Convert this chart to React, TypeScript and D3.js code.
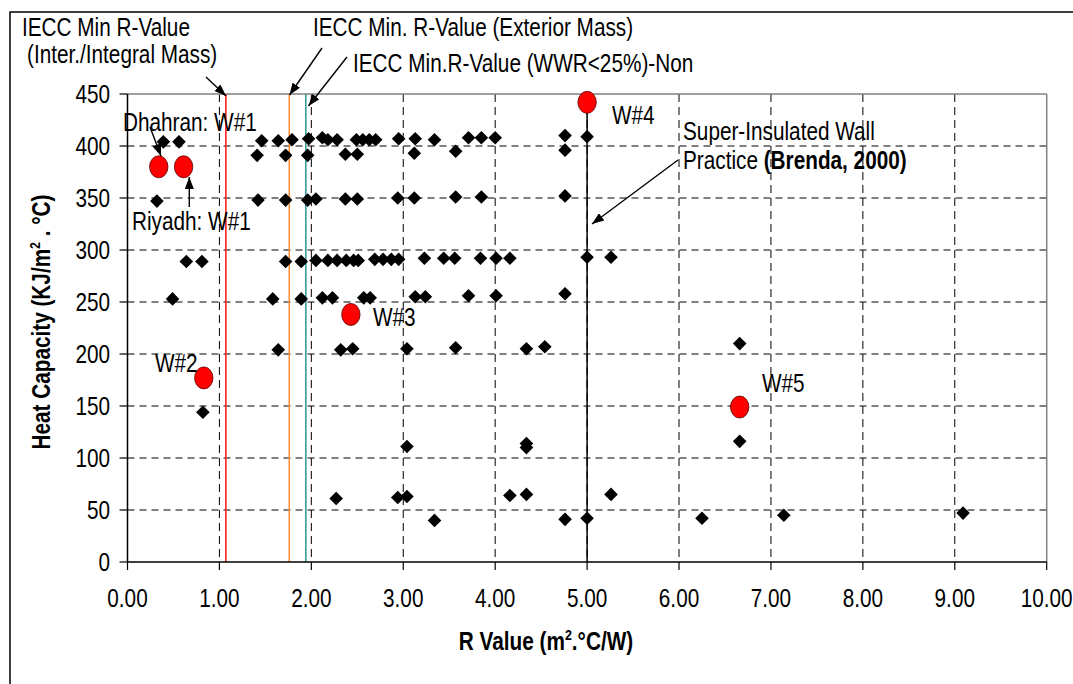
import React from 'react';
import * as d3 from 'd3';

const W = 1073;
const H = 684;

// Axis ticks
const xTicks = [0, 1, 2, 3, 4, 5, 6, 7, 8, 9, 10];
const yTicks = [0, 50, 100, 150, 200, 250, 300, 350, 400, 450];

// Wall cases (black diamonds): R value and heat capacity
const rValues = [
  0.39, 0.56, 1.46, 1.64, 1.79, 1.97, 2.12, 2.18, 2.28, 2.49, 2.56, 2.63, 2.70, 2.95, 3.13, 3.34, 3.71, 3.85, 4.00, 4.76, 5.00,
  1.41, 1.72, 1.96, 2.37, 2.50, 3.12, 3.57, 4.76,
  0.32, 1.42, 1.72, 1.96, 2.05, 2.37, 2.50, 2.94, 3.12, 3.57, 3.85, 4.76,
  0.64, 0.81, 1.72, 1.89, 2.05, 2.18, 2.28, 2.38, 2.46, 2.51, 2.69, 2.78, 2.87, 2.95, 3.23, 3.44, 3.56, 3.84, 4.01, 4.16, 5.00, 5.26,
  0.49, 1.58, 1.89, 2.12, 2.23, 2.57, 2.64, 3.13, 3.24, 3.71, 4.01, 4.76,
  1.64, 2.32, 2.45, 3.04, 3.57, 4.34, 4.54, 6.66,
  0.82, 3.04, 4.34, 4.34, 6.66,
  2.27, 2.94, 3.04, 4.16, 4.34, 5.26,
  3.34, 4.76, 5.00, 6.25, 7.14, 9.09,
];
const heatCap = [
  404, 404, 405, 405, 406, 407, 408, 406, 406, 406, 406, 406, 406, 407, 407, 406, 408, 408, 408, 410, 409,
  391, 391, 391, 392, 392, 393, 395, 396,
  347, 348, 348, 348, 349, 349, 349, 350, 350, 351, 351, 352,
  289, 289, 289, 289, 290, 290, 290, 290, 290, 290, 291, 291, 291, 291, 292, 292, 292, 292, 292, 292, 293, 293,
  253, 253, 253, 254, 254, 254, 254, 255, 255, 256, 256, 258,
  204, 204, 205, 205, 206, 205, 207, 210,
  144, 111, 110, 114, 116,
  61, 62, 63, 64, 65, 65,
  40, 41, 42, 42, 45, 47,
];

// Highlighted walls (red circles)
const wallNames = ['Dhahran: W#1', 'Riyadh: W#1', 'W#2', 'W#3', 'W#4', 'W#5'];
const wallR = [0.34, 0.61, 0.83, 2.43, 5.0, 6.66];
const wallHC = [380, 380, 177, 238, 442, 149];

// IECC minimum R-value lines
const ieccR = [1.07, 1.76, 1.94];
const ieccColors = ['#ff2020', '#f7903a', '#3a9c9c'];

// Super-insulated practice line
const superR = 5.0;
const superHC = [0, 442];

const FONT = "'Liberation Sans', Arial, Helvetica, sans-serif";
const SX = 0.83;
const FS = 25;

function T(props: any) {
  const { x, y, anchor = 'start', size = FS, weight = 'normal', rotate = 0, children } = props;
  return (
    <text
      transform={`translate(${x},${y}) rotate(${rotate}) scale(${SX},1)`}
      textAnchor={anchor}
      fontSize={size}
      fontWeight={weight}
      fontFamily={FONT}
      fill="#000"
    >
      {children}
    </text>
  );
}

export default function App() {
  const x = d3.scaleLinear().domain([0, 10]).range([127.5, 1046.7]);
  const y = d3.scaleLinear().domain([0, 450]).range([562, 94]);
  const [x0, x1] = x.range();
  const [y0, y1] = y.range();
  const diamond = 'M0,-6.8L6.8,0L0,6.8L-6.8,0Z';

  const arrow = (ax: number, ay: number, bx: number, by: number, k: number) => (
    <line key={k} x1={ax} y1={ay} x2={bx} y2={by} stroke="#000" strokeWidth={1.4} markerEnd="url(#ah)" />
  );

  return (
    <svg width={W} height={H} style={{ position: 'absolute', left: 0, top: 0, background: '#fff' }}>
      <defs>
        <marker id="ah" viewBox="0 0 12 9" refX="12" refY="4.5" markerWidth="12" markerHeight="9" markerUnits="userSpaceOnUse" orient="auto">
          <path d="M0,0L12,4.5L0,9Z" fill="#000" />
        </marker>
      </defs>
      <rect x={0} y={0} width={W} height={H} fill="#fff" />
      {/* outer frame */}
      <rect x={10} y={12} width={W + 20} height={H + 20} fill="none" stroke="#000" strokeWidth={1.5} />

      {/* grid */}
      {yTicks.filter(v => v > 0 && v < 450).map(v => (
        <line key={'gy' + v} x1={x0} x2={x1} y1={y(v)} y2={y(v)} stroke="#000" strokeWidth={1} strokeDasharray="7,5" />
      ))}
      {xTicks.filter(v => v > 0 && v < 10).map(v => (
        <line key={'gx' + v} x1={x(v)} x2={x(v)} y1={y1} y2={y0} stroke="#000" strokeWidth={1} strokeDasharray="8,5" />
      ))}
      {/* plot border top/right */}
      <line x1={x0} x2={x1} y1={y1} y2={y1} stroke="#808080" strokeWidth={1.5} />
      <line x1={x1} x2={x1} y1={y1} y2={y0} stroke="#808080" strokeWidth={1.5} />

      {/* IECC lines */}
      {ieccR.map((r, i) => (
        <line key={'iecc' + i} x1={x(r)} x2={x(r)} y1={y1} y2={y0} stroke={ieccColors[i]} strokeWidth={1.6} />
      ))}

      {/* super insulated line */}
      <line x1={x(superR)} x2={x(superR)} y1={y(superHC[0])} y2={y(superHC[1])} stroke="#000" strokeWidth={1.5} />

      {/* axes */}
      <line x1={x0} x2={x1} y1={y0} y2={y0} stroke="#000" strokeWidth={1.5} />
      <line x1={x0} x2={x0} y1={y1} y2={y0} stroke="#000" strokeWidth={1.5} />
      {xTicks.map(v => (
        <line key={'tx' + v} x1={x(v)} x2={x(v)} y1={y0} y2={y0 + 8} stroke="#000" strokeWidth={1.2} />
      ))}
      {yTicks.map(v => (
        <line key={'ty' + v} x1={x0 - 8} x2={x0} y1={y(v)} y2={y(v)} stroke="#000" strokeWidth={1.2} />
      ))}
      {xTicks.map(v => (
        <T key={'lx' + v} x={x(v)} y={607} anchor="middle">{d3.format('.2f')(v)}</T>
      ))}
      {yTicks.map(v => (
        <T key={'ly' + v} x={110} y={y(v) + 9} anchor="end">{String(v)}</T>
      ))}

      {/* axis titles */}
      <T x={546} y={650} anchor="middle" weight="bold">
        R Value (m<tspan dy={-10} fontSize={15}>2</tspan><tspan dy={10}>.°C/W)</tspan>
      </T>
      <T x={50} y={322} anchor="middle" weight="bold" rotate={-90}>
        Heat Capacity (KJ/m<tspan dy={-10} fontSize={15}>2</tspan><tspan dy={10}> . °C)</tspan>
      </T>

      {/* diamonds */}
      {rValues.map((r, i) => (
        <path key={'d' + i} d={diamond} transform={`translate(${x(r)},${y(heatCap[i])})`} fill="#000" />
      ))}

      {/* red walls */}
      {wallR.map((r, i) => (
        <ellipse key={'w' + i} cx={x(r)} cy={y(wallHC[i])} rx={9.2} ry={11} fill="#ff0000" stroke="#5a0000" strokeWidth={0.8} />
      ))}

      {/* annotations */}
      <T x={22} y={36}>IECC Min R-Value</T>
      <T x={27} y={63}>(Inter./Integral Mass)</T>
      <T x={313} y={36}>IECC Min. R-Value (Exterior Mass)</T>
      <T x={353} y={72}>IECC Min.R-Value (WWR&lt;25%)-Non</T>
      <T x={123} y={131}>{wallNames[0]}</T>
      <T x={132} y={230}>{wallNames[1]}</T>
      <T x={155} y={372}>{wallNames[2]}</T>
      <T x={373} y={326}>{wallNames[3]}</T>
      <T x={612} y={124}>{wallNames[4]}</T>
      <T x={762} y={392}>{wallNames[5]}</T>
      <T x={683} y={140}>Super-Insulated Wall</T>
      <T x={683} y={169}>Practice <tspan fontWeight="bold">(Brenda, 2000)</tspan></T>

      {arrow(206, 77, 226, 96, 1)}
      {arrow(322, 48, 289.5, 95, 2)}
      {arrow(347, 57, 308.5, 106, 3)}
      {arrow(150, 127, 161, 156, 4)}
      {arrow(189.3, 207, 189.3, 177, 5)}
      {arrow(678, 160, 592, 224, 6)}
    </svg>
  );
}
